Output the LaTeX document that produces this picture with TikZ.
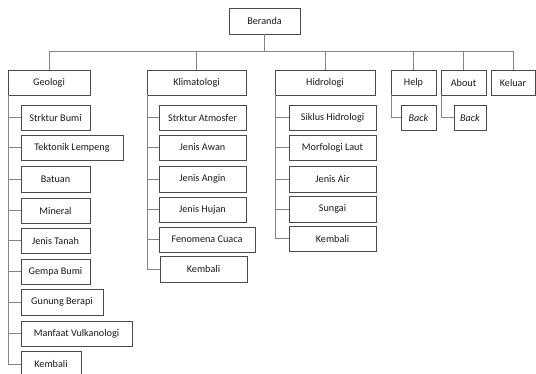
\documentclass[tikz,border=0pt]{standalone}
\usepackage{fontspec}
\setmainfont{Carlito}
\definecolor{boxc}{HTML}{4A4A4A}
\definecolor{linec}{HTML}{858585}
\tikzset{
  bx/.style={draw=boxc, line width=0.8bp, inner sep=0pt, font=\fontsize{10.2bp}{12bp}\selectfont, text=black!90},
  ln/.style={draw=linec, line width=0.9bp}
}
\newcommand\bx[6]{\node[bx, minimum width={(#3-#2)*1bp}, minimum height={(#5-#4)*1bp}] (#1) at ({(#2+#3)/2},{(#4+#5)/2}) {#6};}
\begin{document}
\begin{tikzpicture}[x=1bp,y=-1bp]
\useasboundingbox (0,0) rectangle (536,373);
% top level
\bx{ber}{229}{300}{8}{34}{Beranda}
\bx{geo}{8}{90}{70}{95}{Geologi}
\bx{kli}{147}{246}{70}{95}{Klimatologi}
\bx{hid}{275}{375}{70}{95}{Hidrologi}
\bx{help}{391}{436}{70}{95}{Help}
\bx{about}{441}{486}{70}{95}{About}
\bx{kel}{491}{535}{70}{95}{Keluar}
% Geologi children
\bx{g1}{21}{90}{105}{130}{Strktur Bumi}
\bx{g2}{21}{123}{135}{160}{Tektonik Lempeng}
\bx{g3}{21}{90}{166}{192}{Batuan}
\bx{g4}{21}{90}{198}{223}{Mineral}
\bx{g5}{21}{90}{228}{253}{Jenis Tanah}
\bx{g6}{21}{90}{259}{284}{Gempa Bumi}
\bx{g7}{21}{103}{289}{315}{Gunung Berapi}
\bx{g8}{21}{132}{321}{346}{Manfaat Vulkanologi}
\bx{g9}{21}{81}{351}{377}{Kembali}
% Klimatologi children
\bx{k1}{159}{246}{105}{130}{Strktur Atmosfer}
\bx{k2}{159}{246}{135}{160}{Jenis Awan}
\bx{k3}{159}{246}{166}{192}{Jenis Angin}
\bx{k4}{159}{246}{197}{222}{Jenis Hujan}
\bx{k5}{159}{255}{227}{252}{Fenomena Cuaca}
\bx{k6}{160}{247}{256}{282}{Kembali}
% Hidrologi children
\bx{h1}{289}{376}{105}{130}{Siklus Hidrologi}
\bx{h2}{289}{376}{135}{160}{Morfologi Laut}
\bx{h3}{289}{376}{166}{192}{Jenis Air}
\bx{h4}{289}{376}{196}{222}{Sungai}
\bx{h5}{289}{376}{226}{251}{Kembali}
% Back
\bx{b1}{401}{436}{105}{130}{\itshape Back}
\bx{b2}{454}{486}{105}{130}{\itshape Back}
% bus
\path (ber.south) ++(0,17) coordinate (bus);
\draw[ln] (ber.south) -- (bus);
\draw[ln] (geo.north) |- (bus) -| (kel.north);
\foreach \n in {kli,hid,help,about} \draw[ln] (\n.north) -- (\n.north |- bus);
% trunks
\coordinate (gt) at ([xshift=1bp]geo.south west);
\coordinate (kt) at ([xshift=0.5bp]kli.south west);
\coordinate (ht) at ([xshift=0.5bp]hid.south west);
\coordinate (pt) at ([xshift=0.5bp]help.south west);
\coordinate (at) at ([xshift=0.5bp]about.south west);
\draw[ln] (gt) |- (g9.west);
\foreach \n in {g1,g2,g3,g4,g5,g6,g7,g8} \draw[ln] (\n.west) -- (\n.west -| gt);
\draw[ln] (kt) |- (k6.west);
\foreach \n in {k1,k2,k3,k4,k5} \draw[ln] (\n.west) -- (\n.west -| kt);
\draw[ln] (ht) |- (h5.west);
\foreach \n in {h1,h2,h3,h4} \draw[ln] (\n.west) -- (\n.west -| ht);
\draw[ln] (pt) |- (b1.west);
\draw[ln] (at) |- (b2.west);
\end{tikzpicture}
\end{document}
